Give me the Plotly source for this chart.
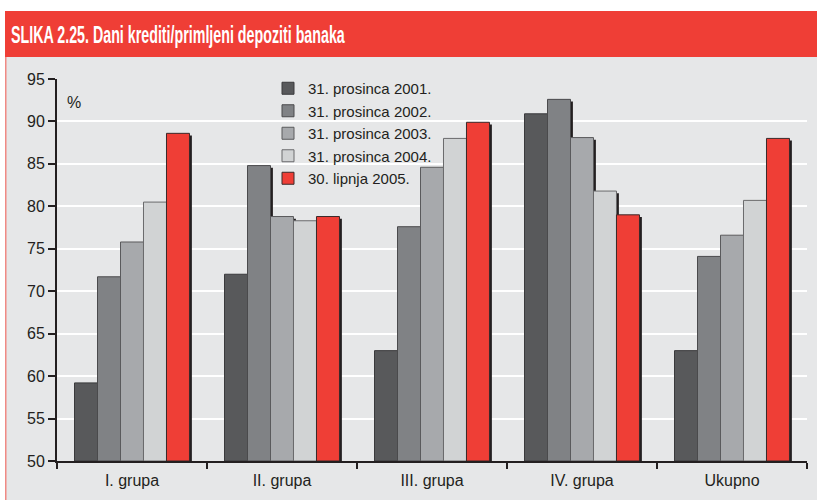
import plotly.graph_objects as go

categories = ["I. grupa", "II. grupa", "III. grupa", "IV. grupa", "Ukupno"]
series_names = ["31. prosinca 2001.", "31. prosinca 2002.", "31. prosinca 2003.",
                "31. prosinca 2004.", "30. lipnja 2005."]
v2001 = [59.2, 72.0, 63.0, 90.9, 63.0]
v2002 = [71.7, 84.8, 77.6, 92.6, 74.1]
v2003 = [75.8, 78.8, 84.6, 88.1, 76.6]
v2004 = [80.5, 78.3, 88.0, 81.8, 80.7]
v2005 = [88.6, 78.8, 89.9, 79.0, 88.0]
series_values = [v2001, v2002, v2003, v2004, v2005]
colors = ["#58595b", "#808285", "#a7a9ac", "#d1d3d4", "#ef3e36"]
line_colors = ["#3a3a3c", "#4a4a4c", "#5a5a5c", "#6a6a6c", "#3a2a2a"]
y_ticks = [50, 55, 60, 65, 70, 75, 80, 85, 90, 95]

W, H = 817, 500
L, R, T, B = 57, 10, 79, 39
pw, ph = W - L - R, H - T - B

def px(x):
    return (x - L) / pw

def py(y):
    return (H - B - y) / ph

bw = 0.1533
start = -0.3833
fig = go.Figure()

# shadows
for i, vals in enumerate(series_values):
    fig.add_trace(go.Bar(
        x=categories, y=[v - 50 - 0.25 for v in vals], base=50,
        width=bw, offset=start + i * bw + 0.016,
        marker=dict(color="#231f20", line=dict(width=0)),
        showlegend=False, hoverinfo="skip"))

for i, (name, vals) in enumerate(zip(series_names, series_values)):
    fig.add_trace(go.Bar(
        x=categories, y=[v - 50 for v in vals], base=50, name=name,
        width=bw, offset=start + i * bw,
        marker=dict(color=colors[i], line=dict(color=line_colors[i], width=1))))

bg = "#e6e7e8"
red = "#ef3e36"
shapes = [
    dict(type="rect", xref="paper", yref="paper", x0=px(-5), x1=px(W + 5),
         y0=py(11), y1=py(-5), fillcolor="white", line=dict(width=0)),
    dict(type="rect", xref="paper", yref="paper", x0=px(5), x1=px(W + 5),
         y0=py(57), y1=py(11), fillcolor=red, line=dict(width=0)),
    dict(type="rect", xref="paper", yref="paper", x0=px(-5), x1=px(5),
         y0=py(H + 5), y1=py(11), fillcolor="white", line=dict(width=0)),
    dict(type="rect", xref="paper", yref="paper", x0=px(5), x1=px(6.5),
         y0=py(H + 5), y1=py(57), fillcolor="#f08a84", line=dict(width=0)),
]

fig.update_layout(
    width=W, height=H,
    margin=dict(l=L, r=R, t=T, b=B),
    paper_bgcolor=bg, plot_bgcolor=bg,
    barmode="overlay",
    font=dict(family="Liberation Sans, Arial, sans-serif", size=16, color="#231f20"),
    shapes=shapes,
    showlegend=True,
    legend=dict(x=px(268), y=py(72), xanchor="left", yanchor="top",
                bgcolor="rgba(0,0,0,0)", font=dict(size=15, color="#231f20"),
                tracegroupgap=0, itemwidth=30, traceorder="normal"),
    annotations=[
        dict(text="SLIKA 2.25. Dani krediti/primljeni depoziti banaka",
             xref="paper", yref="paper", x=px(9), y=py(35), xanchor="left", yanchor="middle",
             showarrow=False,
             font=dict(family="Liberation Sans, Arial, sans-serif",
                       size=23, color="white", weight="bold")),
        dict(text="%", xref="paper", yref="paper", x=px(65), y=py(103),
             xanchor="left", yanchor="middle", showarrow=False,
             font=dict(size=16, color="#231f20")),
    ],
    xaxis=dict(type="category", tickson="boundaries", ticks="outside", ticklen=6,
               tickcolor="#231f20", tickwidth=1.5, showline=True, linecolor="#231f20",
               linewidth=2, showgrid=False, range=[-0.5, 4.5], tickfont=dict(size=16),
               ticklabelstandoff=4),
    yaxis=dict(range=[50, 95], tickvals=y_ticks, ticks="outside", ticklen=7,
               tickcolor="#231f20", tickwidth=1.5, showline=True, linecolor="#231f20",
               linewidth=2, showgrid=True, gridcolor="white", gridwidth=1.5,
               zeroline=False, tickfont=dict(size=16)),
)

post = """
document.body.style.margin='0';
var ts=document.querySelectorAll('text.annotation-text');
ts.forEach(function(t){
  if(t.textContent.indexOf('SLIKA')===0){
    var b=t.getBBox();
    var tr=t.getAttribute('transform')||'';
    t.setAttribute('transform', tr+' translate('+b.x+',0) scale(0.62,1) translate('+(-b.x)+',0)');
  }
});
"""
fig.write_html("out.html", post_script=post, config={"displayModeBar": False})
